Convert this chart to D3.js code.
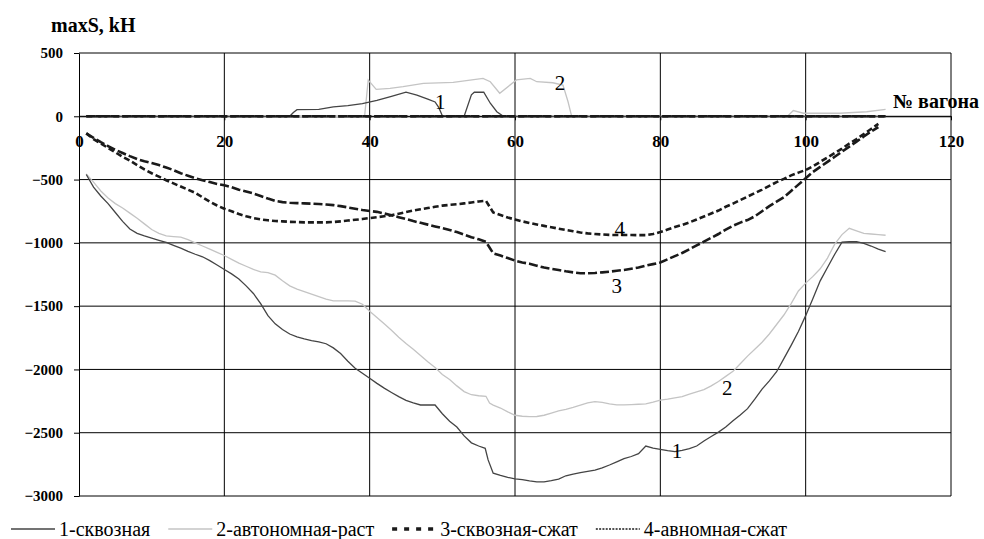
<!DOCTYPE html>
<html><head><meta charset="utf-8">
<script src="https://cdn.jsdelivr.net/npm/d3@7"></script>
<style>body{margin:0;background:#fff;} svg{display:block;}</style>
</head><body><svg id="c" width="984" height="539"></svg>
<script>
const xTicks = [0, 20, 40, 60, 80, 100, 120];
const yTicks = [500, 0, -500, -1000, -1500, -2000, -2500, -3000];
const yTitle = "maxS, kH";
const xTitle = "№ вагона";
const legendLabels = ["1-сквозная", "2-автономная-раст", "3-сквозная-сжат", "4-авномная-сжат"];

// series 1 (сквозная): compression envelope [wagon, kN]
const s1Comp = [[1,-460],[2,-560],[3,-630],[4,-690],[5,-760],[6,-830],[7,-890],[8,-925],[9,-945],[10,-962],[11,-980],[12,-997],[13,-1020],[14,-1042],[15,-1067],[16,-1090],[17,-1110],[18,-1140],[19,-1175],[20,-1210],[21,-1245],[22,-1285],[23,-1340],[24,-1400],[25,-1480],[26,-1575],[27,-1640],[28,-1685],[29,-1720],[30,-1742],[31,-1758],[32,-1772],[33,-1782],[34,-1797],[35,-1830],[36,-1875],[37,-1935],[38,-1990],[39,-2030],[40,-2070],[41,-2110],[42,-2148],[43,-2182],[44,-2215],[45,-2245],[46,-2265],[47,-2281],[48,-2281],[49,-2281],[50,-2350],[51,-2410],[52,-2455],[53,-2525],[54,-2580],[55,-2605],[55.9,-2623],[56.3,-2715],[57,-2820],[58,-2838],[59,-2852],[60,-2864],[61,-2870],[62,-2880],[63,-2888],[64,-2888],[65,-2878],[66,-2866],[67,-2840],[68,-2828],[69,-2816],[70,-2805],[71,-2795],[72,-2778],[73,-2755],[74,-2730],[75,-2705],[76,-2688],[77,-2665],[78,-2605],[79,-2622],[80,-2632],[81,-2642],[82,-2650],[83,-2640],[84,-2625],[85,-2605],[86,-2565],[87,-2530],[88,-2495],[89,-2455],[90,-2405],[91,-2360],[92,-2310],[93,-2235],[94,-2155],[95,-2090],[96,-2018],[97,-1915],[98,-1810],[99,-1700],[100,-1575],[101,-1440],[102,-1300],[103,-1195],[104,-1090],[105,-995],[106,-990],[107,-990],[108,-1005],[109,-1025],[110,-1050],[111,-1070]];
// series 1: tension envelope
const s1Tens = [[1,0],[29,0],[29.5,30],[30,52],[33,55],[35,75],[37,85],[39,100],[41,125],[43,158],[45,190],[46.5,168],[48,135],[49,113],[49.5,70],[50,5],[51,6],[52.5,6],[53,0],[54,170],[54.4,190],[55.7,190],[56.6,103],[57.5,36],[58.4,0],[111,0]];

// series 2 (автономная-раст)
const s2Comp = [[1,-455],[2,-520],[3,-590],[4,-645],[5,-690],[6,-725],[7,-765],[8,-805],[9,-850],[10,-895],[11,-925],[12,-945],[13,-950],[14,-955],[15,-975],[16,-1000],[17,-1025],[18,-1050],[19,-1075],[20,-1100],[21,-1130],[22,-1160],[23,-1185],[24,-1210],[25,-1230],[26,-1235],[27,-1255],[28,-1300],[29,-1340],[30,-1365],[31,-1385],[32,-1405],[33,-1425],[34,-1445],[35,-1459],[36,-1459],[37,-1459],[38,-1460],[39,-1485],[40,-1540],[41,-1590],[42,-1640],[43,-1690],[44,-1745],[45,-1795],[46,-1840],[47,-1890],[48,-1940],[49,-1985],[50,-2040],[51,-2080],[52,-2130],[53,-2175],[54,-2200],[55,-2208],[56,-2212],[56.5,-2265],[57,-2282],[58,-2305],[59,-2335],[60,-2362],[61,-2370],[62,-2373],[63,-2372],[64,-2362],[65,-2345],[66,-2328],[67,-2315],[68,-2300],[69,-2282],[70,-2265],[71,-2255],[72,-2260],[73,-2272],[74,-2280],[75,-2280],[76,-2278],[77,-2275],[78,-2272],[79,-2258],[80,-2242],[81,-2235],[82,-2225],[83,-2215],[84,-2195],[85,-2178],[86,-2160],[87,-2130],[88,-2095],[89,-2055],[90,-2015],[91,-1955],[92,-1895],[93,-1840],[94,-1785],[95,-1720],[96,-1645],[97,-1570],[98,-1480],[99,-1380],[100,-1318],[101,-1265],[102,-1205],[103,-1120],[104,-1010],[105,-935],[106,-885],[107,-905],[108,-925],[109,-930],[110,-935],[111,-940]];
const s2Tens = [[1,0],[39.3,0],[39.8,287],[40.9,213],[42.8,221],[44.6,234],[47.4,260],[51.5,268],[55.6,300],[56.6,273],[57.9,182],[60.2,287],[62.1,300],[63,273],[65.2,265],[66.6,247],[67.3,115],[67.8,0],[97.5,0],[98.3,45],[99.7,24],[104.7,24],[108.4,36],[111,55]];

// series 3 (сквозная-сжат)
const s3Comp = [[1,-135],[2,-170],[3,-205],[4,-235],[5,-265],[6,-290],[7,-315],[8,-338],[9,-355],[10,-370],[11,-385],[12,-405],[13,-425],[14,-450],[15,-470],[16,-490],[17,-505],[18,-520],[19,-535],[20,-545],[21,-560],[22,-580],[23,-595],[24,-610],[25,-630],[26,-650],[27,-668],[28,-678],[29,-683],[30,-686],[31,-688],[32,-690],[33,-693],[34,-697],[35,-702],[36,-710],[37,-720],[38,-730],[39,-740],[40,-748],[41,-755],[42,-768],[43,-782],[44,-797],[45,-812],[46,-828],[47,-842],[48,-856],[49,-870],[50,-884],[51,-898],[52,-915],[53,-935],[54,-955],[55,-972],[56,-992],[57,-1082],[58,-1100],[59,-1120],[60,-1140],[61,-1155],[62,-1165],[63,-1180],[64,-1195],[65,-1205],[66,-1215],[67,-1225],[68,-1233],[69,-1240],[70,-1240],[71,-1238],[72,-1233],[73,-1228],[74,-1220],[75,-1214],[76,-1205],[77,-1195],[78,-1180],[79,-1168],[80,-1155],[81,-1130],[82,-1105],[83,-1080],[84,-1050],[85,-1020],[86,-990],[87,-960],[88,-930],[89,-895],[90,-865],[91,-840],[92,-820],[93,-790],[94,-750],[95,-710],[96,-675],[97,-640],[98,-590],[99,-540],[100,-490],[101,-440],[102,-400],[103,-360],[104,-320],[105,-280],[106,-240],[107,-200],[108,-160],[109,-120],[110,-85]];
const s3Tens = [[1,0],[111,0]];

// series 4 (авномная-сжат)
const s4Comp = [[1,-135],[2,-180],[3,-215],[4,-250],[5,-285],[6,-320],[7,-350],[8,-385],[9,-420],[10,-450],[11,-477],[12,-505],[13,-530],[14,-555],[15,-580],[16,-605],[17,-640],[18,-675],[19,-705],[20,-730],[21,-750],[22,-772],[23,-790],[24,-805],[25,-815],[26,-822],[27,-827],[28,-830],[29,-834],[30,-836],[31,-838],[32,-838],[33,-838],[34,-838],[35,-835],[36,-830],[37,-824],[38,-818],[39,-812],[40,-804],[41,-797],[42,-790],[43,-782],[44,-770],[45,-757],[46,-745],[47,-735],[48,-725],[49,-715],[50,-706],[51,-700],[52,-695],[53,-688],[54,-681],[55,-673],[56,-668],[57,-760],[58,-780],[59,-800],[60,-815],[61,-830],[62,-843],[63,-855],[64,-866],[65,-876],[66,-888],[67,-898],[68,-908],[69,-918],[70,-925],[71,-930],[72,-934],[73,-937],[74,-938],[75,-938],[76,-938],[77,-939],[78,-939],[79,-930],[80,-915],[81,-895],[82,-875],[83,-858],[84,-838],[85,-815],[86,-792],[87,-768],[88,-745],[89,-715],[90,-690],[91,-662],[92,-635],[93,-607],[94,-580],[95,-550],[96,-520],[97,-495],[98,-467],[99,-445],[100,-424],[101,-395],[102,-360],[103,-325],[104,-290],[105,-255],[106,-215],[107,-180],[108,-140],[109,-100],[110,-60]];
const s4Tens = [[1,0],[111,0]];

// curve annotations: [text, wagon, kN]
const curveLabels = [["1",49.7,113],["2",66.2,263],["4",74.4,-884],["3",74.0,-1335],["2",89.2,-2141],["1",82.3,-2639]];

const FONT = '"Liberation Serif"';
const svg = d3.select("#c");
const x = d3.scaleLinear().domain([0,120]).range([79,951]);
const y = d3.scaleLinear().domain([-3000,500]).range([496,53]);

// grid
svg.append("g").selectAll("line").data(yTicks).join("line")
  .attr("x1",x(0)).attr("x2",x(120)).attr("y1",d=>y(d)).attr("y2",d=>y(d))
  .attr("stroke","#000").attr("stroke-width",1);
svg.append("g").selectAll("line").data(xTicks.filter(d=>d>0)).join("line")
  .attr("x1",d=>x(d)).attr("x2",d=>x(d)).attr("y1",y(500)).attr("y2",y(-3000))
  .attr("stroke","#000").attr("stroke-width",1);

// y axis
const ya = svg.append("g").attr("transform",`translate(${x(0)},0)`)
  .call(d3.axisLeft(y).tickValues(yTicks).tickFormat(d3.format("d")).tickSize(5).tickSizeOuter(0).tickPadding(11));
ya.selectAll("text").style("font-family",FONT).attr("font-weight","bold").attr("font-size",15).attr("fill","#000");
ya.selectAll("line,path").attr("stroke","#000");

// x axis at zero
const xa = svg.append("g").attr("transform",`translate(0,${y(0)})`)
  .call(d3.axisBottom(x).tickValues(xTicks).tickFormat(d3.format("d")).tickSize(4).tickSizeOuter(0).tickPadding(15));
xa.selectAll("text").style("font-family",FONT).attr("font-weight","bold").attr("font-size",17).attr("fill","#000");
xa.selectAll("line,path").attr("stroke","#000");

svg.append("text").attr("x",51).attr("y",32).text(yTitle).style("font-family",FONT)
  .attr("font-weight","bold").attr("font-size",20);
svg.append("text").attr("x",893).attr("y",108).text(xTitle).style("font-family",FONT)
  .attr("font-weight","bold").attr("font-size",20);

const line = d3.line().x(d=>x(d[0])).y(d=>y(d[1]));
const styles = [
  {stroke:"#444", width:1.3, dash:null},
  {stroke:"#c4c4c4", width:1.3, dash:null},
  {stroke:"#1a1a1a", width:2.6, dash:"9,3"},
  {stroke:"#1a1a1a", width:2.6, dash:"6,3"}
];
const seriesData = [[s1Tens,s1Comp],[s2Tens,s2Comp],[s3Tens,s3Comp],[s4Tens,s4Comp]];
[1,0,3,2].forEach(i=>{
  seriesData[i].forEach(arr=>{
    svg.append("path").attr("d",line(arr)).attr("fill","none")
      .attr("stroke",styles[i].stroke).attr("stroke-width",styles[i].width)
      .attr("stroke-dasharray",styles[i].dash);
  });
});

svg.append("g").selectAll("text").data(curveLabels).join("text")
  .attr("x",d=>x(d[1])).attr("y",d=>y(d[2])).attr("dy","0.35em")
  .attr("text-anchor","middle").style("font-family",FONT).attr("font-size",21)
  .text(d=>d[0]);

// legend
const legendStyles = [
  {stroke:"#444", width:1.3, dash:null},
  {stroke:"#c4c4c4", width:1.3, dash:null},
  {stroke:"#1a1a1a", width:3.3, dash:"5,7"},
  {stroke:"#1a1a1a", width:1.6, dash:"2,1.3"}
];
let lx = 11;
const ly = 529;
legendLabels.forEach((lab,i)=>{
  svg.append("line").attr("x1",lx).attr("x2",lx+44).attr("y1",ly).attr("y2",ly)
    .attr("stroke",legendStyles[i].stroke).attr("stroke-width",legendStyles[i].width)
    .attr("stroke-dasharray",legendStyles[i].dash);
  const t = svg.append("text").attr("x",lx+48).attr("y",ly).attr("dy","0.35em")
    .style("font-family",FONT).attr("font-size",20).text(lab);
  lx += 48 + t.node().getComputedTextLength() + 18;
});
</script></body></html>
